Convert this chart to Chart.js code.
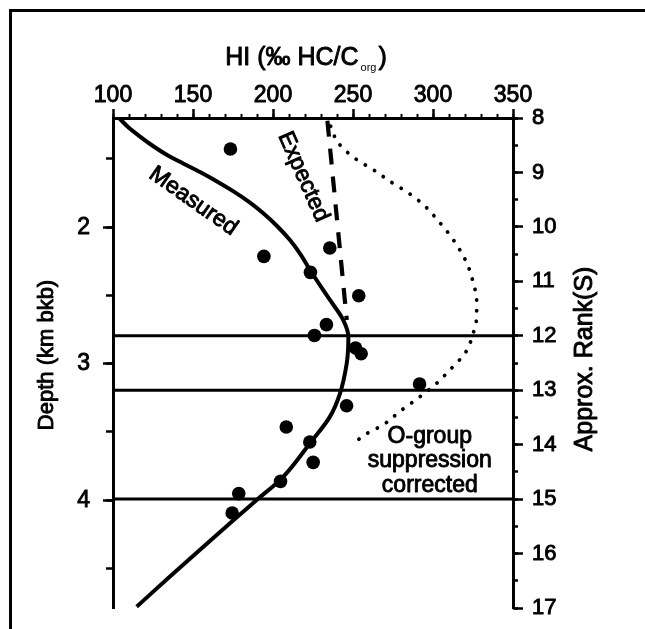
<!DOCTYPE html>
<html>
<head>
<meta charset="utf-8">
<script src="https://cdn.jsdelivr.net/npm/chart.js@4.4.1/dist/chart.umd.min.js"></script>
<style>
  html, body { margin: 0; padding: 0; background: #fff; }
  canvas { display: block; }
</style>
</head>
<body>
<canvas id="chart" width="645" height="629"></canvas>
<script>
// Hydrogen index (HI) against depth, with the approximate rank scale on the right.

// Axis ranges and tick labels
const hiTicks = [100, 150, 200, 250, 300, 350];
const depthTicks = [2, 3, 4];
const rankTicks = [8, 9, 10, 11, 12, 13, 14, 15, 16, 17];
const hiRange = [100, 350];
const depthRange = [1.2, 4.79];
const rankRange = [8, 17];

// Measured samples (HI, depth in km bkb)
const sampleHI    = [173.4, 194.3, 235.5, 223.4, 253.6, 233.4, 225.9, 251.6, 255.1, 291.6, 246.0, 208.3, 223.0, 225.1, 204.7, 178.6, 174.5];
const sampleDepth = [1.427, 2.214, 2.152, 2.331, 2.502, 2.714, 2.793, 2.885, 2.927, 3.149, 3.308, 3.464, 3.574, 3.723, 3.862, 3.952, 4.094];

// Trend through the measured samples
const measuredHI    = [103.8, 109.4, 116.9, 125.0, 133.8, 143.8, 154.4, 165.0, 175.3, 185.0, 194.1, 202.5, 210.6, 217.5, 223.1, 235.6, 243.9, 247.1, 246.9, 246.1, 241.9, 235.6, 223.1, 205.5, 189.8, 173.1, 154.4, 135.6, 114.8];
const measuredDepth = [1.2, 1.266, 1.336, 1.405, 1.471, 1.533, 1.596, 1.665, 1.738, 1.815, 1.90, 1.991, 2.094, 2.204, 2.314, 2.533, 2.68, 2.802, 2.90, 2.997, 3.217, 3.388, 3.583, 3.84, 3.998, 4.169, 4.363, 4.56, 4.78];

// Expected trend
const expectedHI    = [234.0, 246.1];
const expectedDepth = [1.22, 2.68];

// O-group suppression corrected trend
const correctedHI    = [236.0, 240.8, 252.3, 262.7, 273.1, 284.6, 294.0, 304.4, 312.7, 321.1, 325.2, 327.3, 327.3, 325.2, 320.1, 310.7, 301.3, 290.8, 279.4, 269.0, 256.5, 251.4];
const correctedDepth = [1.26, 1.383, 1.505, 1.579, 1.664, 1.749, 1.835, 1.969, 2.092, 2.262, 2.409, 2.531, 2.653, 2.775, 2.922, 3.044, 3.154, 3.251, 3.349, 3.447, 3.527, 3.577];

// Rank levels marked across the plot
const markerRanks = [12, 13, 15];

const FONT = "'Liberation Sans', Arial, Helvetica, sans-serif";
const INK = '#000';
const TEXT_STROKE = 0.9;

const pairs = (xs, ys) => xs.map((v, i) => ({ x: v, y: ys[i] }));

// Text placed on the plot (positions in data units)
const curveLabels = [
  { text: 'Measured', hi: 150.2, depth: 1.81, angle: 35 },
  { text: 'Expected', hi: 218.9, depth: 1.63, angle: 66 }
];
const noteLines = ['O-group', 'suppression', 'corrected'];
const noteAnchor = { hi: 298, depths: [3.579, 3.758, 3.938] };

const datasets = [];

markerRanks.forEach(r => {
  datasets.push({
    data: [{ x: hiRange[0], y: r }, { x: hiRange[1], y: r }],
    yAxisID: 'rank',
    showLine: true,
    borderColor: INK,
    borderWidth: 3,
    pointRadius: 0
  });
});

datasets.push({
  label: 'Measured',
  data: pairs(measuredHI, measuredDepth),
  indexAxis: 'y',
  showLine: true,
  borderColor: INK,
  borderWidth: 4,
  pointRadius: 0,
  cubicInterpolationMode: 'monotone'
});

datasets.push({
  label: 'Expected',
  data: pairs(expectedHI, expectedDepth),
  showLine: true,
  borderColor: INK,
  borderWidth: 4.2,
  borderDash: [16, 12],
  pointRadius: 0
});

datasets.push({
  label: 'O-group suppression corrected',
  data: pairs(correctedHI, correctedDepth),
  indexAxis: 'y',
  showLine: true,
  borderColor: INK,
  borderWidth: 3.8,
  borderDash: [0.1, 10.6],
  borderCapStyle: 'round',
  pointRadius: 0,
  cubicInterpolationMode: 'monotone'
});

datasets.push({
  label: 'Samples',
  data: pairs(sampleHI, sampleDepth),
  showLine: false,
  pointRadius: 6.8,
  pointBackgroundColor: INK,
  pointBorderWidth: 0
});

const noPad = s => { s.paddingTop = 0; s.paddingBottom = 0; s.paddingLeft = 0; s.paddingRight = 0; };

// filled text with a thin outline in the same ink
function inkText(ctx, text, x, y) {
  ctx.fillText(text, x, y);
  ctx.strokeText(text, x, y);
}

const decorations = {
  id: 'decorations',
  beforeDraw(chart) {
    const ctx = chart.ctx;
    ctx.save();
    ctx.fillStyle = '#fff';
    ctx.fillRect(0, 0, chart.width, chart.height);
    ctx.restore();
  },
  afterDatasetsDraw(chart) {
    const ctx = chart.ctx;
    const sx = chart.scales.x, sy = chart.scales.y;
    ctx.save();
    ctx.fillStyle = INK;
    ctx.strokeStyle = INK;
    ctx.lineWidth = TEXT_STROKE;
    ctx.lineJoin = 'round';
    ctx.font = '23px ' + FONT;
    ctx.textAlign = 'center';
    ctx.textBaseline = 'middle';
    curveLabels.forEach(l => {
      ctx.save();
      ctx.translate(sx.getPixelForValue(l.hi), sy.getPixelForValue(l.depth));
      ctx.rotate(l.angle * Math.PI / 180);
      inkText(ctx, l.text, 0, 0);
      ctx.restore();
    });
    ctx.textBaseline = 'alphabetic';
    noteLines.forEach((t, i) => {
      inkText(ctx, t, sx.getPixelForValue(noteAnchor.hi), sy.getPixelForValue(noteAnchor.depths[i]));
    });
    ctx.restore();
  },
  afterDraw(chart) {
    const ctx = chart.ctx;
    const area = chart.chartArea;
    ctx.save();
    // page frame
    ctx.strokeStyle = INK;
    ctx.lineWidth = 3;
    ctx.beginPath();
    ctx.moveTo(10.5, chart.height);
    ctx.lineTo(10.5, 10.5);
    ctx.lineTo(chart.width, 10.5);
    ctx.stroke();

    ctx.fillStyle = INK;
    ctx.lineWidth = TEXT_STROKE;
    ctx.lineJoin = 'round';

    // top axis title with subscript
    ctx.textBaseline = 'alphabetic';
    ctx.textAlign = 'left';
    const mainFont = '25px ' + FONT, subFont = '11px ' + FONT;
    ctx.font = mainFont;
    const head = 'HI (\u2030 HC/C', tail = ')';
    const wHead = ctx.measureText(head).width;
    const wTail = ctx.measureText(tail).width;
    ctx.font = subFont;
    const sub = 'org';
    const wSub = ctx.measureText(sub).width;
    const total = wHead + 2 + wSub + 2 + wTail;
    const cx = (area.left + area.right) / 2 - 7;
    const x0 = cx - total / 2;
    const base = 65;
    ctx.font = mainFont;
    inkText(ctx, head, x0, base);
    ctx.font = subFont;
    ctx.fillText(sub, x0 + wHead + 2, base + 6);
    ctx.font = mainFont;
    inkText(ctx, tail, x0 + wHead + 2 + wSub + 2, base);

    ctx.textAlign = 'center';
    ctx.textBaseline = 'middle';

    // left axis title, reading upwards
    ctx.save();
    ctx.translate(47, (area.top + area.bottom) / 2 - 8);
    ctx.rotate(-Math.PI / 2);
    ctx.font = '22px ' + FONT;
    inkText(ctx, 'Depth (km bkb)', 0, 0);
    ctx.restore();

    // right axis title, reading upwards
    ctx.save();
    ctx.translate(585, (area.top + area.bottom) / 2 - 4);
    ctx.rotate(-Math.PI / 2);
    ctx.font = '25px ' + FONT;
    inkText(ctx, 'Approx. Rank(S)', 0, 0);
    ctx.restore();
    ctx.restore();
  }
};

const tickText = size => ({
  color: INK,
  font: { size, family: FONT },
  textStrokeColor: INK,
  textStrokeWidth: TEXT_STROKE,
  autoSkip: false
});

new Chart(document.getElementById('chart'), {
  type: 'scatter',
  data: { datasets },
  plugins: [decorations],
  options: {
    responsive: false,
    animation: false,
    devicePixelRatio: 1,
    layout: { padding: { top: 0, left: 0, right: 0, bottom: 21 } },
    plugins: { legend: { display: false }, tooltip: { enabled: false } },
    scales: {
      x: {
        type: 'linear', position: 'top', weight: 1,
        min: hiRange[0], max: hiRange[1],
        afterBuildTicks: s => { s.ticks = hiTicks.map(v => ({ value: v })); },
        afterFit: s => { s.height = 118; noPad(s); },
        ticks: Object.assign(tickText(23), { padding: 0, maxRotation: 0 }),
        grid: { drawOnChartArea: false, tickLength: 9, tickWidth: 2.5, color: INK },
        border: { display: true, color: INK, width: 3 }
      },
      xMinor: {
        type: 'linear', position: 'top', weight: 0, axis: 'x',
        min: hiRange[0], max: hiRange[1],
        afterFit: s => { s.height = 0; noPad(s); },
        ticks: { display: false, stepSize: 10 },
        grid: { drawOnChartArea: false, tickLength: 4, tickWidth: 2, color: INK },
        border: { display: false }
      },
      y: {
        type: 'linear', position: 'left', weight: 1, reverse: true,
        min: depthRange[0], max: depthRange[1],
        afterBuildTicks: s => { s.ticks = depthTicks.map(v => ({ value: v })); },
        afterFit: s => { s.width = 113; noPad(s); },
        ticks: Object.assign(tickText(23), { padding: 13 }),
        grid: { drawOnChartArea: false, tickLength: 10, tickWidth: 2.5, color: INK },
        border: { display: true, color: INK, width: 3 }
      },
      yMinor: {
        type: 'linear', position: 'left', weight: 0, axis: 'y', reverse: true,
        min: depthRange[0], max: depthRange[1],
        afterFit: s => { s.width = 0; noPad(s); },
        ticks: { display: false, stepSize: 0.5, includeBounds: false },
        grid: { drawOnChartArea: false, tickLength: 7, tickWidth: 2.5, color: INK },
        border: { display: false }
      },
      rank: {
        type: 'linear', position: 'right', weight: 1, axis: 'y', reverse: true,
        min: rankRange[0], max: rankRange[1],
        afterBuildTicks: s => { s.ticks = rankTicks.map(v => ({ value: v })); },
        afterFit: s => { s.width = 132; noPad(s); },
        ticks: Object.assign(tickText(22), { padding: 9 }),
        grid: { drawOnChartArea: false, tickLength: 10, tickWidth: 2.5, color: INK },
        border: { display: true, color: INK, width: 3 }
      },
      rankMinor: {
        type: 'linear', position: 'right', weight: 0, axis: 'y', reverse: true,
        min: rankRange[0], max: rankRange[1],
        afterFit: s => { s.width = 0; noPad(s); },
        ticks: { display: false, stepSize: 0.5 },
        grid: { drawOnChartArea: false, tickLength: 5, tickWidth: 2.5, color: INK },
        border: { display: false }
      }
    }
  }
});
</script>
</body>
</html>
